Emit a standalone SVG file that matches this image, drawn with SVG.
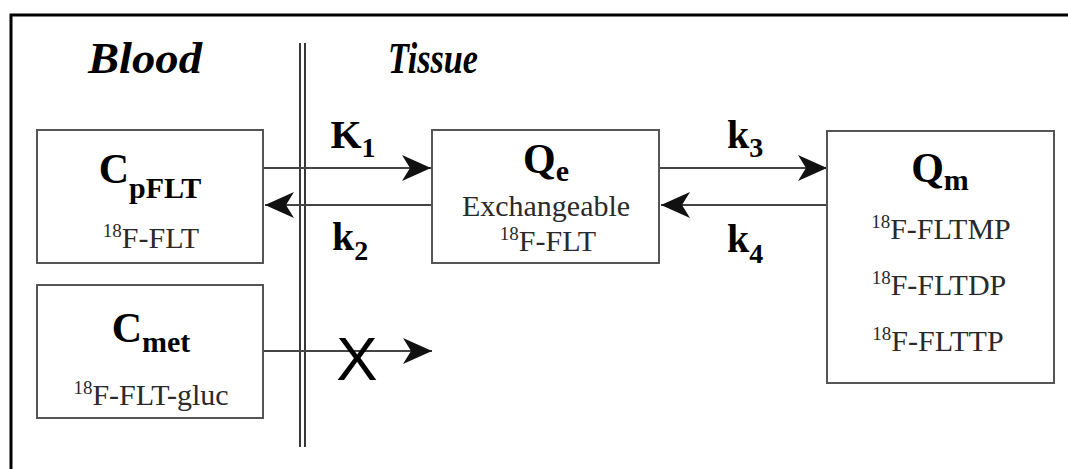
<svg xmlns="http://www.w3.org/2000/svg" width="1068" height="469" viewBox="0 0 1068 469">
<style>
.box{fill:#fff;stroke:#555;stroke-width:2}
.ln{fill:none;stroke:#444;stroke-width:2}
.hd{font-family:"Liberation Serif","Times New Roman",serif;font-weight:bold;fill:#000}
.tx{font-family:"Liberation Serif","Times New Roman",serif;fill:#2a2a2a;font-size:30px}
.sup{font-size:19px}
.ti{font-family:"Liberation Serif","Times New Roman",serif;font-weight:bold;font-style:italic;font-size:44px;fill:#000}
</style>
<defs>
<marker id="ah" markerUnits="userSpaceOnUse" markerWidth="32" markerHeight="30" viewBox="-30 -15 32 30" refX="0" refY="0" orient="auto">
<path d="M0,0 L-29,-13 L-21,0 L-29,13 Z" fill="#111"/>
</marker>
</defs>
<rect width="1068" height="469" fill="#fff"/>
<path d="M11,469 V15 H1068" fill="none" stroke="#000" stroke-width="3"/>
<text class="ti" x="88" y="73" textLength="114" lengthAdjust="spacingAndGlyphs">Blood</text>
<text class="ti" x="388" y="73" textLength="90" lengthAdjust="spacingAndGlyphs">Tissue</text>
<g id="membrane">
<line x1="300" y1="43" x2="300" y2="447" stroke="#222" stroke-width="1.8"/>
<line x1="305" y1="43" x2="305" y2="447" stroke="#222" stroke-width="1.8"/>
</g>
<g id="connectors">
<line class="ln" x1="263" y1="168" x2="431" y2="168" marker-end="url(#ah)"/>
<line class="ln" x1="432" y1="205" x2="265" y2="205" marker-end="url(#ah)"/>
<line class="ln" x1="659" y1="168" x2="827" y2="168" marker-end="url(#ah)"/>
<line class="ln" x1="827" y1="205" x2="661" y2="205" marker-end="url(#ah)"/>
<line class="ln" x1="263" y1="351" x2="432" y2="351" marker-end="url(#ah)"/>
<text x="357" y="380" text-anchor="middle" font-family="Liberation Sans, sans-serif" font-size="62" fill="#000">X</text>
<text class="hd" x="353" y="148" font-size="40" text-anchor="middle">K<tspan font-size="28" dy="9">1</tspan></text>
<text class="hd" x="350" y="250" font-size="40" text-anchor="middle">k<tspan font-size="28" dy="10">2</tspan></text>
<text class="hd" x="745" y="148" font-size="40" text-anchor="middle">k<tspan font-size="28" dy="9">3</tspan></text>
<text class="hd" x="745" y="252" font-size="40" text-anchor="middle">k<tspan font-size="28" dy="11">4</tspan></text>
</g>
<g id="CpFLT">
<rect class="box" x="37" y="130" width="226" height="133"/>
<text class="hd" x="150" y="183" font-size="42" text-anchor="middle">C<tspan font-size="30" dy="15">pFLT</tspan></text>
<text class="tx" x="151" y="248" text-anchor="middle"><tspan class="sup" dy="-11">18</tspan><tspan dy="11">F-FLT</tspan></text>
</g>
<g id="Cmet">
<rect class="box" x="37" y="285" width="226" height="133"/>
<text class="hd" x="151" y="342" font-size="42" text-anchor="middle">C<tspan font-size="30" dy="10">met</tspan></text>
<text class="tx" x="151" y="405" text-anchor="middle"><tspan class="sup" dy="-11">18</tspan><tspan dy="11">F-FLT-gluc</tspan></text>
</g>
<g id="Qe">
<rect class="box" x="432" y="130" width="227" height="133"/>
<text class="hd" x="546" y="173" font-size="42" text-anchor="middle">Q<tspan font-size="30" dy="8">e</tspan></text>
<text class="tx" x="546" y="216" text-anchor="middle">Exchangeable</text>
<text class="tx" x="548" y="251" text-anchor="middle"><tspan class="sup" dy="-11">18</tspan><tspan dy="11">F-FLT</tspan></text>
</g>
<g id="Qm">
<rect class="box" x="827" y="131" width="227" height="252"/>
<text class="hd" x="940" y="182" font-size="42" text-anchor="middle">Q<tspan font-size="30" dy="8">m</tspan></text>
<text class="tx" x="941" y="239" text-anchor="middle"><tspan class="sup" dy="-11">18</tspan><tspan dy="11">F-FLTMP</tspan></text>
<text class="tx" x="939" y="295" text-anchor="middle"><tspan class="sup" dy="-11">18</tspan><tspan dy="11">F-FLTDP</tspan></text>
<text class="tx" x="938" y="351" text-anchor="middle"><tspan class="sup" dy="-11">18</tspan><tspan dy="11">F-FLTTP</tspan></text>
</g>
</svg>
